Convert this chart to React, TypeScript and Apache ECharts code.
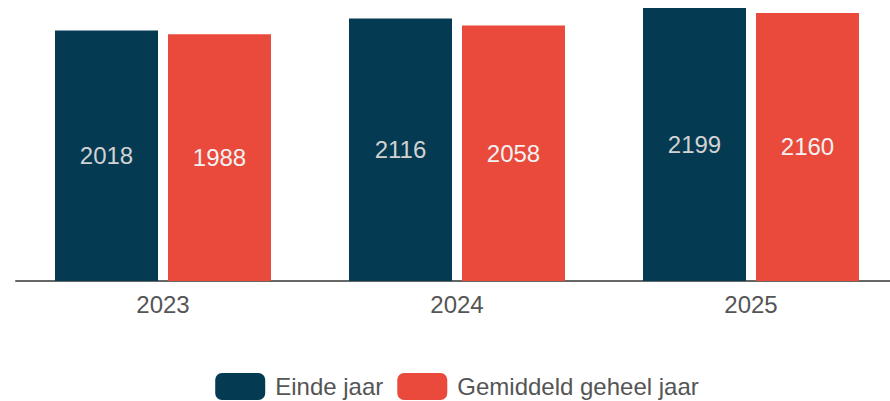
import React, { useEffect, useRef } from "react";
import * as echarts from "echarts";

const categories = ["2023", "2024", "2025"];
const eindeJaar = [2018, 2116, 2199];
const gemiddeld = [1988, 2058, 2160];
const seriesNames = ["Einde jaar", "Gemiddeld geheel jaar"];

export default function App() {
  const ref = useRef<HTMLDivElement>(null);
  useEffect(() => {
    if (!ref.current) return;
    const chart = echarts.init(ref.current, undefined, { renderer: "svg" });
    const font = "'Liberation Sans', Arial, sans-serif";
    const label = (color: string) => ({
      show: true,
      position: "inside" as const,
      color,
      fontSize: 24,
      fontFamily: font,
    });
    chart.setOption({
      animation: false,
      grid: { left: 16, right: 16, top: 8, bottom: 120, containLabel: false },
      legend: {
        data: seriesNames,
        top: 368,
        left: "center",
        icon: "roundRect",
        itemWidth: 50,
        itemHeight: 27,
        itemGap: 14,
        textStyle: { color: "#555", fontSize: 24, fontFamily: font, padding: [0, 0, 0, 5] },
      },
      xAxis: {
        type: "category",
        data: categories,
        axisLine: { lineStyle: { color: "#666", width: 2 } },
        axisTick: { show: false },
        axisLabel: { color: "#555", fontSize: 24, fontFamily: font, margin: 11 },
      },
      yAxis: {
        type: "value",
        min: 0,
        max: 2200,
        show: false,
        splitLine: { show: false },
      },
      series: [
        {
          name: seriesNames[0],
          type: "bar",
          data: eindeJaar,
          barWidth: 103,
          barGap: "9.7%",
          itemStyle: { color: "#043b52" },
          label: label("#d2d2d2"),
        },
        {
          name: seriesNames[1],
          type: "bar",
          data: gemiddeld,
          barWidth: 103,
          itemStyle: { color: "#e94a3b" },
          label: label("#f2f2f2"),
        },
      ],
    });
    return () => chart.dispose();
  }, []);
  return (
    <div style={{ position: "absolute", left: 0, top: 0, width: 890, height: 401, overflow: "hidden" }}>
      <div ref={ref} style={{ width: 914, height: 401 }} />
    </div>
  );
}
